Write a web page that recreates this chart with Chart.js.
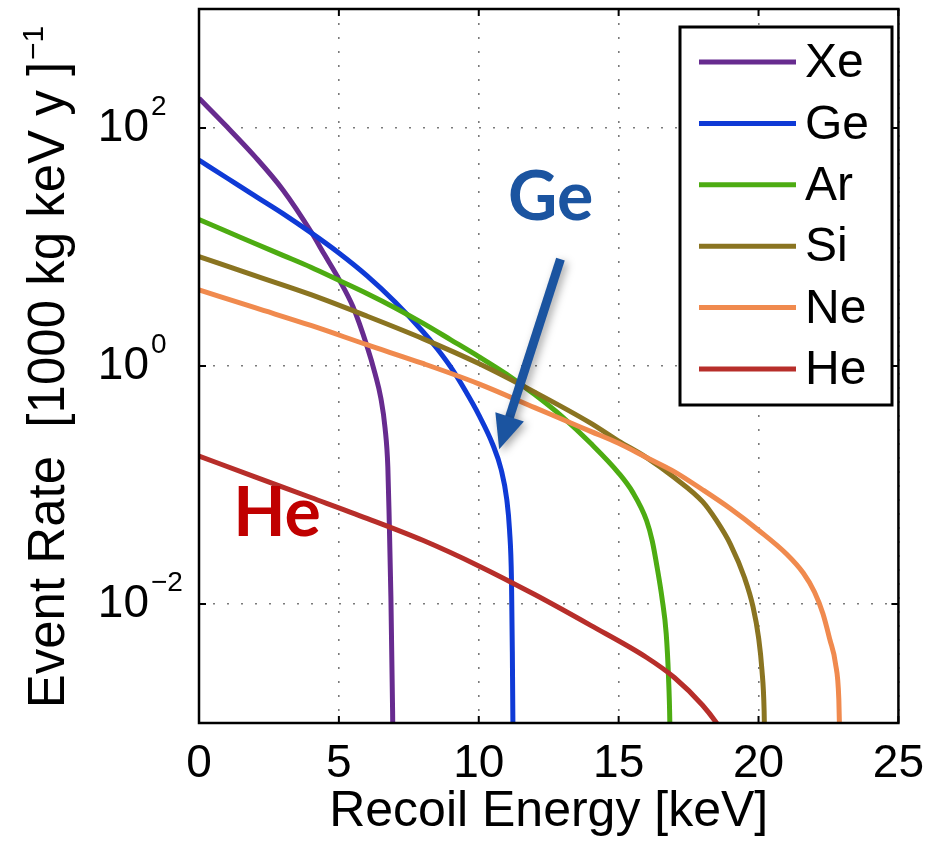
<!DOCTYPE html>
<html>
<head>
<meta charset="utf-8">
<script src="https://cdn.jsdelivr.net/npm/chart.js@4.4.1/dist/chart.umd.min.js"></script>
<style>
  html, body { margin: 0; padding: 0; background: #ffffff; }
  #wrap { width: 938px; height: 842px; }
</style>
</head>
<body>
<div id="wrap"><canvas id="rateChart" width="938" height="842"></canvas></div>
<script>
// Recoil energy [keV] and event rate [1000 kg keV y]^-1
const xeEnergy = [0, 1, 2, 3, 4, 4.5, 5, 5.5, 6, 6.3, 6.5, 6.65, 6.75, 6.8, 6.86, 6.92, 6.95];
const xeRate   = [177.8, 102.3, 57.5, 30.2, 13.5, 8.51, 5.37, 3.16, 1.48, 0.851, 0.537, 0.302, 0.141, 0.0501, 0.0112, 0.00126, 0.00025];

const geEnergy = [0, 1, 2, 3, 4, 5, 6, 7, 8, 8.5, 9, 9.5, 10, 10.5, 10.8, 11.0, 11.1, 11.17, 11.2, 11.24];
const geRate   = [53.7, 38.0, 26.9, 19.1, 13.2, 8.91, 5.75, 3.47, 1.95, 1.41, 0.977, 0.631, 0.389, 0.219, 0.135, 0.0759, 0.0417, 0.0158, 0.00398, 0.00025];

const arEnergy = [0, 1, 2, 3, 4, 5, 6, 7, 8, 9, 10, 11, 12, 13, 14, 15, 15.5, 16, 16.2, 16.38, 16.55, 16.7, 16.78, 16.83, 16.86];
const arRate   = [17.0, 13.5, 10.7, 8.51, 6.76, 5.25, 4.07, 3.09, 2.29, 1.66, 1.20, 0.851, 0.575, 0.372, 0.224, 0.126, 0.0871, 0.0501, 0.0339, 0.02, 0.0112, 0.00562, 0.00251, 0.001, 0.00025];

const siEnergy = [0, 2, 4, 6, 8, 10, 12, 14, 15, 16, 17, 18, 18.5, 19, 19.5, 19.8, 20, 20.12, 20.2, 20.25];
const siRate   = [8.32, 5.75, 3.98, 2.63, 1.70, 1.05, 0.603, 0.331, 0.234, 0.170, 0.115, 0.0724, 0.0501, 0.0316, 0.0166, 0.00955, 0.00525, 0.00282, 0.00126, 0.00025];

const neEnergy = [0, 2, 4, 6, 8, 10, 12, 13, 14, 15, 16, 17, 18, 19, 20, 21, 21.6, 22, 22.3, 22.55, 22.75, 22.87, 22.95];
const neRate   = [4.37, 3.09, 2.19, 1.51, 1.05, 0.708, 0.447, 0.355, 0.282, 0.224, 0.170, 0.129, 0.0912, 0.0631, 0.0417, 0.0263, 0.0182, 0.0126, 0.00832, 0.00501, 0.00316, 0.00158, 0.00025];

const heEnergy = [0, 2, 4, 6, 8, 10, 12, 14, 16, 17, 18, 18.5, 19];
const heRate   = [0.175, 0.117, 0.0785, 0.0525, 0.0343, 0.0209, 0.0120, 0.00661, 0.00355, 0.0024, 0.00141, 0.001, 0.00066];

const targets = ['Xe', 'Ge', 'Ar', 'Si', 'Ne', 'He'];
const energyTicks = [0, 5, 10, 15, 20, 25];
const rateTicks = [1e-2, 1e0, 1e2];
const rateTickExp = ['\u22122', '0', '2'];

// callouts: [text, energy, rate]
const calloutGe = ['Ge', 12.57, 25.7];
const calloutHe = ['He', 2.79, 0.0575];
const arrowFrom = [12.92, 7.9];
const arrowTo = [10.73, 0.2];

const colors = ['#672b8f', '#0f3ad6', '#4dac12', '#8a7421', '#f08a4e', '#b72e2a'];
const FONT = "'Liberation Sans', Arial, Helvetica, sans-serif";

function toPoints(xs, ys) {
    return xs.map((x, i) => ({ x: x, y: ys[i] }));
}

const series = [
    [xeEnergy, xeRate], [geEnergy, geRate], [arEnergy, arRate],
    [siEnergy, siRate], [neEnergy, neRate], [heEnergy, heRate]
];

const datasets = series.map((s, i) => ({
    label: targets[i],
    data: toPoints(s[0], s[1]),
    borderColor: colors[i],
    backgroundColor: colors[i],
    borderWidth: 5,
    pointRadius: 0,
    cubicInterpolationMode: 'monotone',
    clip: 0,
    order: targets.length - i
}));

// frame, y labels, legend and callouts
const overlay = {
    id: 'overlay',
    afterDraw(chart) {
        const { ctx, chartArea: a, scales: { x, y } } = chart;
        ctx.save();

        // box and inward ticks
        ctx.strokeStyle = '#000';
        ctx.lineWidth = 2.5;
        ctx.strokeRect(a.left, a.top, a.right - a.left, a.bottom - a.top);
        ctx.lineWidth = 2;
        ctx.beginPath();
        energyTicks.forEach(v => {
            const px = x.getPixelForValue(v);
            ctx.moveTo(px, a.bottom); ctx.lineTo(px, a.bottom - 7);
            ctx.moveTo(px, a.top); ctx.lineTo(px, a.top + 7);
        });
        rateTicks.forEach(v => {
            const py = y.getPixelForValue(v);
            ctx.moveTo(a.left, py); ctx.lineTo(a.left + 7, py);
            ctx.moveTo(a.right, py); ctx.lineTo(a.right - 7, py);
        });
        ctx.stroke();

        // y tick labels 10^n
        ctx.fillStyle = '#000';
        rateTicks.forEach((v, i) => {
            const py = y.getPixelForValue(v);
            ctx.font = '46px ' + FONT;
            ctx.textAlign = 'right';
            ctx.textBaseline = 'middle';
            ctx.fillText('10', 149, py);
            ctx.font = '28px ' + FONT;
            ctx.textAlign = 'left';
            ctx.fillText(rateTickExp[i], 151, py - 21);
        });

        // y axis title with superscript
        const main = 'Event Rate  [1000 kg keV y ]';
        const sup = '\u22121';
        ctx.translate(50, (a.top + a.bottom) / 2 + 2);
        ctx.rotate(-Math.PI / 2);
        ctx.font = '51px ' + FONT;
        const w1 = ctx.measureText(main).width;
        ctx.font = '30px ' + FONT;
        const w2 = ctx.measureText(sup).width;
        const start = -(w1 + w2) / 2;
        ctx.textAlign = 'left';
        ctx.textBaseline = 'middle';
        ctx.font = '51px ' + FONT;
        ctx.fillText(main, start, 0);
        ctx.font = '30px ' + FONT;
        ctx.fillText(sup, start + w1 + 2, -15);
        ctx.setTransform(1, 0, 0, 1, 0, 0);

        // legend box
        const lx = 680, ly = 27, lw = 212, lh = 378;
        ctx.fillStyle = '#fff';
        ctx.fillRect(lx, ly, lw, lh);
        ctx.strokeStyle = '#000';
        ctx.lineWidth = 3;
        ctx.strokeRect(lx, ly, lw, lh);
        chart.data.datasets.forEach((ds, i) => {
            const ry = 62 + i * 61.4;
            ctx.strokeStyle = ds.borderColor;
            ctx.lineWidth = 5;
            ctx.beginPath();
            ctx.moveTo(699, ry); ctx.lineTo(796, ry);
            ctx.stroke();
            ctx.fillStyle = '#000';
            ctx.font = '48px ' + FONT;
            ctx.textAlign = 'left';
            ctx.textBaseline = 'middle';
            ctx.fillText(ds.label, 805, ry + 2);
        });

        // callout arrow
        const x0 = x.getPixelForValue(arrowFrom[0]), y0 = y.getPixelForValue(arrowFrom[1]);
        const x1 = x.getPixelForValue(arrowTo[0]), y1 = y.getPixelForValue(arrowTo[1]);
        const ang = Math.atan2(y1 - y0, x1 - x0);
        const headLen = 34, headHalf = 15;
        const bx = x1 - headLen * Math.cos(ang), by = y1 - headLen * Math.sin(ang);
        ctx.shadowColor = 'rgba(0,0,0,0.35)';
        ctx.shadowBlur = 8;
        ctx.shadowOffsetX = 3;
        ctx.shadowOffsetY = 3;
        ctx.strokeStyle = '#1b54a0';
        ctx.fillStyle = '#1b54a0';
        ctx.lineWidth = 9;
        ctx.beginPath();
        ctx.moveTo(x0, y0); ctx.lineTo(bx + 4 * Math.cos(ang), by + 4 * Math.sin(ang));
        ctx.stroke();
        ctx.beginPath();
        ctx.moveTo(x1, y1);
        ctx.lineTo(bx - headHalf * Math.sin(ang), by + headHalf * Math.cos(ang));
        ctx.lineTo(bx + headHalf * Math.sin(ang), by - headHalf * Math.cos(ang));
        ctx.closePath();
        ctx.fill();
        ctx.shadowColor = 'transparent';

        // callout labels
        ctx.font = "bold 68px Lato, 'Open Sans', sans-serif";
        ctx.textAlign = 'center';
        ctx.textBaseline = 'middle';
        ctx.fillStyle = '#1b54a0';
        ctx.fillText(calloutGe[0], x.getPixelForValue(calloutGe[1]), y.getPixelForValue(calloutGe[2]));
        ctx.fillStyle = '#c00000';
        ctx.fillText(calloutHe[0], x.getPixelForValue(calloutHe[1]), y.getPixelForValue(calloutHe[2]));

        ctx.restore();
    }
};

const gridStyle = {
    color: '#7a7a7a',
    lineWidth: 1.6,
    drawTicks: false
};

new Chart(document.getElementById('rateChart').getContext('2d'), {
    type: 'line',
    data: { datasets: datasets },
    options: {
        responsive: false,
        animation: false,
        layout: { padding: { top: 9, right: 31, left: 0, bottom: 0 } },
        plugins: {
            legend: { display: false },
            tooltip: { enabled: false }
        },
        scales: {
            x: {
                type: 'linear',
                min: 0,
                max: 25,
                afterBuildTicks: scale => { scale.ticks = energyTicks.map(v => ({ value: v })); },
                afterFit: scale => { scale.height = 119; },
                grid: gridStyle,
                border: { display: false, dash: [2, 12] },
                ticks: {
                    color: '#000',
                    padding: 14,
                    maxRotation: 0,
                    font: { family: FONT, size: 46 }
                },
                title: {
                    display: true,
                    text: 'Recoil Energy [keV]',
                    color: '#000',
                    padding: { top: 0, bottom: 0 },
                    font: { family: FONT, size: 50 }
                }
            },
            y: {
                type: 'logarithmic',
                min: 1e-3,
                max: 1e3,
                afterBuildTicks: scale => { scale.ticks = rateTicks.map(v => ({ value: v })); },
                afterFit: scale => { scale.width = 199; },
                grid: gridStyle,
                border: { display: false, dash: [2, 12] },
                ticks: { display: false }
            }
        }
    },
    plugins: [overlay]
});
</script>
</body>
</html>
